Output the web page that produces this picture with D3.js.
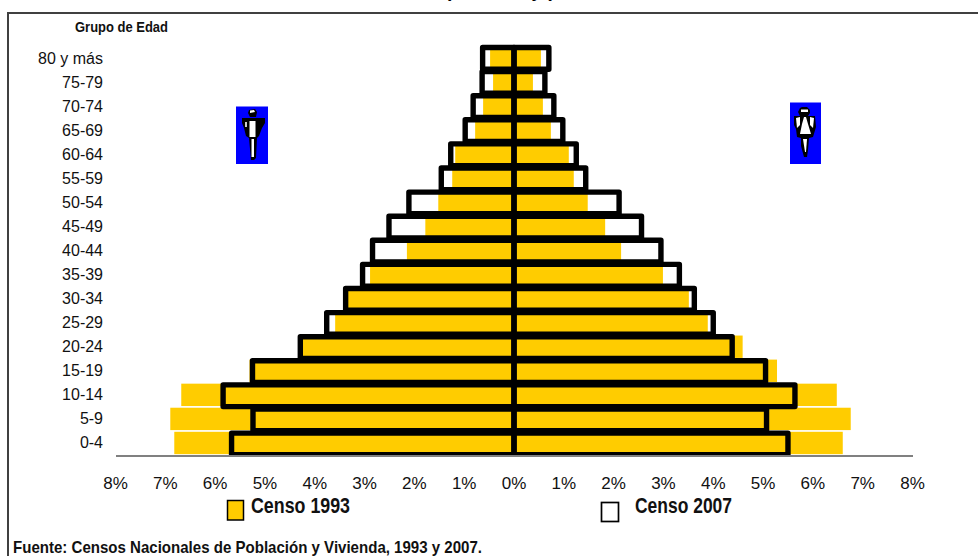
<!DOCTYPE html>
<html>
<head>
<meta charset="utf-8">
<script src="https://cdn.jsdelivr.net/npm/d3@7"></script>
<style>
  html, body { margin: 0; padding: 0; background: #fff; overflow: hidden; }
  svg { display: block; font-family: "Liberation Sans", Arial, sans-serif; }
</style>
</head>
<body>
<div class="chart"></div>
<script>
var svgWidth = 978;
var svgHeight = 556;

// Grupos de edad, de arriba hacia abajo
var grupos = ["80 y más", "75-79", "70-74", "65-69", "60-64", "55-59", "50-54", "45-49", "40-44",
  "35-39", "30-34", "25-29", "20-24", "15-19", "10-14", "5-9", "0-4"];

// Porcentajes
var hombres1993 = [0.48, 0.42, 0.62, 0.78, 1.18, 1.24, 1.52, 1.78, 2.15, 2.89, 3.37, 3.59, 4.30, 5.31, 6.68, 6.90, 6.82];
var mujeres1993 = [0.54, 0.38, 0.58, 0.74, 1.10, 1.20, 1.48, 1.83, 2.15, 2.99, 3.51, 3.89, 4.59, 5.28, 6.48, 6.76, 6.60];
var hombres2007 = [0.63, 0.64, 0.82, 0.98, 1.27, 1.46, 2.11, 2.51, 2.84, 3.04, 3.38, 3.76, 4.29, 5.25, 5.84, 5.24, 5.67];
var mujeres2007 = [0.70, 0.62, 0.80, 0.98, 1.25, 1.44, 2.11, 2.56, 2.95, 3.32, 3.62, 4.00, 4.38, 5.05, 5.64, 5.07, 5.50];

var xTicks = [-8, -7, -6, -5, -4, -3, -2, -1, 0, 1, 2, 3, 4, 5, 6, 7, 8];

var svg = d3.select(".chart")
  .append("svg")
  .attr("width", svgWidth)
  .attr("height", svgHeight);

// Los contornos se cortan en la linea del eje
svg.append("clipPath")
  .attr("id", "areaGrafico")
  .append("rect")
  .attr("x", 0)
  .attr("y", 0)
  .attr("width", svgWidth)
  .attr("height", 455);

// Marco (se sale de la imagen a la derecha y abajo)
svg.append("rect")
  .attr("x", 8)
  .attr("y", 13)
  .attr("width", 1000)
  .attr("height", 600)
  .attr("fill", "none")
  .attr("stroke", "#404040")
  .attr("stroke-width", 2);

// Titulo, cortado por el borde superior
svg.append("text")
  .attr("x", 500)
  .attr("y", -3.5)
  .attr("text-anchor", "middle")
  .attr("font-size", 19)
  .attr("font-weight", "bold")
  .text("(Porcentaje)");

// Scales
var x = d3.scaleLinear().domain([-8, 8]).range([115.5, 912.5]);

var yBarras = d3.scaleBand().domain(grupos).range([46, 455]).paddingInner(0.07).paddingOuter(0.035);
var yContorno = d3.scaleBand().domain(grupos).range([47.5, 454.8]).paddingInner(0.1);

// Censo 1993, barras amarillas
function barras1993(valores, signo) {
  svg.append("g").selectAll("rect")
    .data(valores)
    .enter()
    .append("rect")
    .attr("x", d => signo < 0 ? x(-d) : x(0))
    .attr("y", (d, i) => yBarras(grupos[i]))
    .attr("width", d => Math.abs(x(d) - x(0)))
    .attr("height", yBarras.bandwidth())
    .attr("fill", "#FFCC00");
}
barras1993(hombres1993, -1);
barras1993(mujeres1993, 1);

// Eje Y
var ejeY = svg.append("g")
  .attr("transform", "translate(115, 0.4)")
  .call(d3.axisLeft(yBarras).tickSize(0).tickPadding(12));
ejeY.select(".domain").remove();
ejeY.selectAll("text").attr("font-size", 16).attr("fill", "#111");

// Censo 2007, contornos negros
function contorno2007(valores, signo) {
  svg.append("g")
    .attr("clip-path", "url(#areaGrafico)")
    .selectAll("rect")
    .data(valores)
    .enter()
    .append("rect")
    .attr("x", d => signo < 0 ? x(-d) : x(0))
    .attr("y", (d, i) => yContorno(grupos[i]))
    .attr("width", d => Math.abs(x(d) - x(0)))
    .attr("height", yContorno.bandwidth())
    .attr("fill", "none")
    .attr("stroke", "#000")
    .attr("stroke-width", 5.4)
    .attr("stroke-linejoin", "round");
}
contorno2007(hombres2007, -1);
contorno2007(mujeres2007, 1);

// Eje X
var ejeX = svg.append("g")
  .attr("transform", "translate(0, 455.5)")
  .call(d3.axisBottom(x).tickValues(xTicks).tickSize(0).tickPadding(21.5).tickFormat(d => Math.abs(d) + "%"));
ejeX.select(".domain").attr("stroke", "#808080").attr("stroke-width", 2);
ejeX.selectAll("text").attr("font-size", 17).attr("font-family", null).attr("fill", "#111").attr("x", -0.5);

// Textos en negrita, angostos como en el original
function textoAngosto(txt, xPos, yPos, size, ancho) {
  svg.append("text")
    .attr("x", xPos)
    .attr("y", yPos)
    .attr("font-size", size)
    .attr("font-weight", "bold")
    .attr("textLength", ancho)
    .attr("lengthAdjust", "spacingAndGlyphs")
    .attr("fill", "#111")
    .text(txt);
}
textoAngosto("Grupo de Edad", 75, 32, 15.5, 93);
textoAngosto("Censo 1993", 251, 512.5, 22, 99);
textoAngosto("Censo 2007", 635, 512.5, 22, 97);
textoAngosto("Fuente: Censos Nacionales de Población y Vivienda, 1993 y 2007.", 13, 553, 16.5, 469);

// Leyenda
svg.append("rect")
  .attr("x", 227.5).attr("y", 500.5).attr("width", 16).attr("height", 19.5)
  .attr("fill", "#FFCC00").attr("stroke", "#000").attr("stroke-width", 1.5);
svg.append("rect")
  .attr("x", 601.5).attr("y", 502.5).attr("width", 17).attr("height", 19)
  .attr("fill", "#fff").attr("stroke", "#000").attr("stroke-width", 1.7);

// Iconos hombre y mujer
function figura(fondo, partes) {
  svg.append("rect")
    .attr("x", fondo[0]).attr("y", fondo[1]).attr("width", fondo[2]).attr("height", fondo[3])
    .attr("fill", "#0000FF");
  svg.append("g").selectAll("path")
    .data(partes)
    .enter()
    .append("path")
    .attr("d", d => d3.line()(d.p) + "Z")
    .attr("fill", d => d.c);
}

figura([236, 106.5, 32, 57.5], [
  { c: "#000", p: [[249, 110], [255, 109], [257, 112], [256, 117], [250, 117], [248, 113]] },
  { c: "#000", p: [[242, 118], [265, 118], [265, 123], [262, 128], [259, 136], [257, 138], [256, 158], [254, 160], [251, 160], [249, 138], [246, 136], [244, 128], [242, 123]] },
  { c: "#fff", p: [[250, 110.5], [254, 110], [255, 112], [250, 113]] },
  { c: "#fff", p: [[249.5, 121], [255.5, 121], [255.5, 137], [249.5, 137]] },
  { c: "#fff", p: [[251.5, 139], [254, 139], [254, 157], [251.5, 157]] },
  { c: "#ccc", p: [[245, 122], [247, 122], [247, 127], [245, 127]] }
]);

figura([790, 102.5, 31, 61.5], [
  { c: "#000", p: [[800, 108], [802, 107], [807, 107], [810, 110], [810, 113], [808, 116], [815, 116], [816, 127], [813, 137], [809, 138], [808, 150], [807, 157], [804, 157], [801, 146], [801, 138], [797, 137], [796, 129], [794, 125], [794, 116], [800, 116], [798, 112]] },
  { c: "#fff", p: [[801, 109.5], [808, 109.5], [808, 112], [801, 112]] },
  { c: "#fff", p: [[796, 118], [800, 117], [800, 125], [797, 128]] },
  { c: "#fff", p: [[810, 117], [814, 118], [813, 128], [810, 125]] },
  { c: "#fff", p: [[804, 117], [806, 117], [808, 124], [811, 134], [800, 134], [802, 124]] },
  { c: "#fff", p: [[803, 139], [807, 139], [806, 152], [805, 152]] }
]);
</script>
</body>
</html>
